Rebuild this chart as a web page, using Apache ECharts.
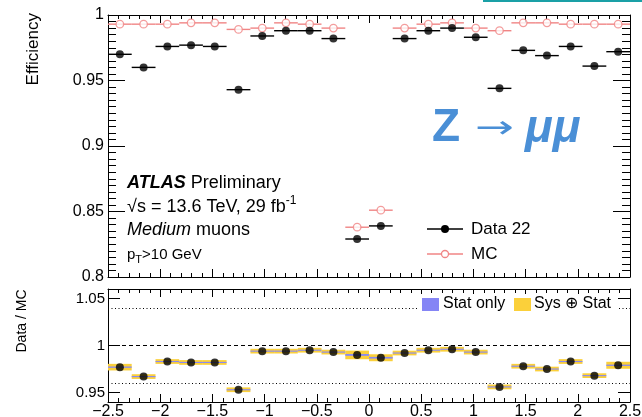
<!DOCTYPE html>
<html><head><meta charset="utf-8">
<script src="https://cdn.jsdelivr.net/npm/echarts@6/dist/echarts.min.js"></script>
<style>html,body{margin:0;padding:0;background:#fff}#c{width:642px;height:417px}</style>
</head><body><div id="c"></div>
<script>
// ---- data ----
const binEdges = [-2.5,-2.273,-2.045,-1.818,-1.591,-1.364,-1.136,-0.909,-0.682,-0.455,-0.227,0,0.227,0.455,0.682,0.909,1.136,1.364,1.591,1.818,2.045,2.273,2.5];
const dataEff = [0.970,0.960,0.976,0.977,0.976,0.943,0.984,0.988,0.988,0.982,0.829,0.839,0.982,0.988,0.990,0.983,0.944,0.973,0.969,0.976,0.961,0.972];
const mcEff   = [0.993,0.993,0.993,0.994,0.994,0.989,0.990,0.994,0.993,0.990,0.838,0.851,0.990,0.993,0.994,0.990,0.988,0.994,0.994,0.993,0.993,0.993];
const ratio   = [0.977,0.967,0.983,0.982,0.982,0.953,0.994,0.994,0.995,0.993,0.990,0.987,0.992,0.995,0.996,0.993,0.956,0.978,0.975,0.983,0.968,0.979];
const ratioSysStat = [0.0035,0.0025,0.0025,0.0025,0.0025,0.0025,0.0025,0.0025,0.0025,0.0025,0.0046,0.0037,0.0025,0.0025,0.0025,0.0025,0.0025,0.0025,0.0025,0.0025,0.0025,0.0037];
const ratioStat    = [0.0007,0.0006,0.0006,0.0006,0.0006,0.0006,0.0006,0.0006,0.0006,0.0006,0.0010,0.0009,0.0006,0.0006,0.0006,0.0006,0.0006,0.0006,0.0006,0.0006,0.0006,0.0007];
const ratioRefLines = [1.04, 0.96];
const ratioUnity = [1];
const xTicks = [-2.5,-2,-1.5,-1,-0.5,0,0.5,1,1.5,2,2.5];
const effTicks = [0.8,0.85,0.9,0.95,1];
const ratioTicks = [0.95,1,1.05];

// ---- helpers ----
const F = '"Liberation Sans", Arial, Helvetica, sans-serif';
const binItems = (vals, errs) => vals.map((v,i)=> errs ? [binEdges[i], binEdges[i+1], v, errs[i]] : [binEdges[i], binEdges[i+1], v]);
const centerItems = vals => vals.map((v,i)=>[(binEdges[i]+binEdges[i+1])/2, v]);
const hLine = (color, width) => (params, api) => {
  const a = api.coord([api.value(0), api.value(2)]);
  const b = api.coord([api.value(1), api.value(2)]);
  return {type:'line', shape:{x1:a[0], y1:a[1], x2:b[0], y2:b[1]}, style:{stroke:color, lineWidth:width}};
};
const band = color => (params, api) => {
  const v = api.value(2), e = api.value(3);
  const a = api.coord([api.value(0), v+e]);
  const b = api.coord([api.value(1), v-e]);
  return {type:'rect', shape:{x:a[0], y:a[1], width:b[0]-a[0], height:Math.max(b[1]-a[1],1)}, style:{fill:color}};
};
const blk = {color:'#000', width:1};
function xAx(grid, pos, labels){
  return {gridIndex:grid, type:'value', min:-2.5, max:2.5, interval:0.5, position:pos,
    axisLine:{show:true, onZero:false, lineStyle:blk},
    axisTick:{show:true, inside:true, length:8, lineStyle:blk},
    minorTick:{show:true, splitNumber:5, length:4, lineStyle:blk},
    splitLine:{show:false},
    axisLabel:{show:labels, margin:2, fontFamily:F, fontSize:16, color:'#000',
      customValues: xTicks, formatter: v => String(v).replace('-', '\u2212')}};
}
function yAx(grid, pos, lo, hi, labels, ticks, tickLen, minor, fs){
  const ax = {gridIndex:grid, type:'value', min:lo, max:hi, position:pos,
    axisLine:{show:true, onZero:false, lineStyle:blk},
    axisTick:{show:true, inside:true, length:tickLen, lineStyle:blk, customValues:ticks},
    minorTick:{show:minor, splitNumber:10, length:8, lineStyle:blk},
    splitLine:{show:false},
    axisLabel:{show:labels, margin:grid===0?4:3, fontFamily:F, fontSize:fs, color:'#000', customValues:ticks}};
  if (minor) { ax.interval = 0.05; delete ax.axisTick.customValues; }
  return ax;
}
const Z = '#4a8fd6';
const PINK = '#f08585';

const option = {
  animation:false,
  backgroundColor:'#fff',
  grid:[{left:108, right:12, top:15, height:262, outerBoundsMode:'none', containLabel:false},
        {left:108, right:12, top:289, height:113, outerBoundsMode:'none', containLabel:false}],
  xAxis:[xAx(0,'bottom',false), xAx(0,'top',false), xAx(1,'bottom',true), xAx(1,'top',false)],
  yAxis:[
    yAx(0,'left',0.8,1,true,effTicks,17,true,16),
    yAx(0,'right',0.8,1,false,effTicks,17,true,16),
    yAx(1,'left',0.94,1.06,true,ratioTicks,12,false,15),
    yAx(1,'right',0.94,1.06,false,ratioTicks,12,false,15)
  ],
  series:[
    {type:'custom', xAxisIndex:0, yAxisIndex:0, renderItem:hLine(PINK,1.4), data:binItems(mcEff), encode:{x:[0,1], y:2}, z:2},
    {type:'scatter', xAxisIndex:0, yAxisIndex:0, data:centerItems(mcEff), symbol:'circle', symbolSize:7.5,
      itemStyle:{color:'#fff', borderColor:PINK, borderWidth:1.3}, z:3},
    {type:'custom', xAxisIndex:0, yAxisIndex:0, renderItem:hLine('#000',1.4), data:binItems(dataEff), encode:{x:[0,1], y:2}, z:4},
    {type:'scatter', xAxisIndex:0, yAxisIndex:0, data:centerItems(dataEff), symbol:'circle', symbolSize:8,
      itemStyle:{color:'#000'}, z:5},
    // ratio panel
    {type:'scatter', xAxisIndex:2, yAxisIndex:2, data:[], silent:true, z:1,
      markLine:{silent:true, symbol:'none', label:{show:false}, animation:false,
        data: ratioRefLines.map(v=>({yAxis:v, lineStyle:{color:'#000', width:1, type:[1,2.5]}}))
          .concat(ratioUnity.map(v=>({yAxis:v, lineStyle:{color:'#000', width:1, type:[4,3]}})))}},
    {type:'custom', xAxisIndex:2, yAxisIndex:2, renderItem:band('#fbd03a'), data:binItems(ratio, ratioSysStat), encode:{x:[0,1], y:2}, z:2},
    {type:'custom', xAxisIndex:2, yAxisIndex:2, renderItem:band('#8a8af2'), data:binItems(ratio, ratioStat), encode:{x:[0,1], y:2}, z:3},
    {type:'scatter', xAxisIndex:2, yAxisIndex:2, data:centerItems(ratio), symbol:'circle', symbolSize:8,
      itemStyle:{color:'#000'}, z:5}
  ],
  graphic:[
    {type:'line', shape:{x1:483, y1:1, x2:642, y2:1}, style:{stroke:'#1aa0a6', lineWidth:2}},
    // axis titles
    {type:'text', x:33, y:13, rotation:Math.PI/2, style:{text:'Efficiency', font:'17px '+F, fill:'#000', align:'right', verticalAlign:'middle'}},
    {type:'text', x:22, y:321, rotation:Math.PI/2, style:{text:'Data / MC', font:'14px '+F, fill:'#000', align:'center', verticalAlign:'middle'}},
    // labels
    {type:'text', x:127, y:183, style:{text:'{b|ATLAS} Preliminary', font:'18px '+F, fill:'#000', verticalAlign:'middle',
      rich:{b:{fontFamily:F, fontSize:18, fontWeight:'bold', fontStyle:'italic'}}}},
    {type:'text', x:127, y:207, style:{text:'\u221As = 13.6 TeV, 29 fb{s|-1}', font:'18px '+F, fill:'#000', verticalAlign:'middle',
      rich:{s:{fontFamily:F, fontSize:12, padding:[0,0,12,0]}}}},
    {type:'text', x:127, y:230, style:{text:'{i|Medium} muons', font:'18px '+F, fill:'#000', verticalAlign:'middle',
      rich:{i:{fontFamily:F, fontSize:18, fontStyle:'italic'}}}},
    {type:'text', x:127, y:255, style:{text:'p{t|T}>10 GeV', font:'15px '+F, fill:'#000', verticalAlign:'middle',
      rich:{t:{fontFamily:F, fontSize:11, padding:[10,0,0,0]}}}},
    // Z -> mumu
    {type:'text', x:432, y:128, style:{text:'Z', font:'bold 46px '+F, fill:Z, verticalAlign:'middle'}},
    {type:'text', x:475, y:130, scaleX:1.45, style:{text:'\u2192', font:'32px "DejaVu Sans"', fill:Z, verticalAlign:'middle'}},
    {type:'text', x:525, y:129, style:{text:'\u03BC\u03BC', font:'italic bold 46px '+F, fill:Z, verticalAlign:'middle'}},
    // top legend
    {type:'line', shape:{x1:427, y1:229, x2:463, y2:229}, style:{stroke:'#000', lineWidth:1.4}},
    {type:'circle', shape:{cx:445, cy:229, r:4}, style:{fill:'#000'}},
    {type:'text', x:471, y:229, style:{text:'Data 22', font:'17px '+F, fill:'#000', verticalAlign:'middle'}},
    {type:'line', shape:{x1:427, y1:254, x2:463, y2:254}, style:{stroke:PINK, lineWidth:1.4}},
    {type:'circle', shape:{cx:445, cy:254, r:3.5}, style:{fill:'#fff', stroke:PINK, lineWidth:1.3}},
    {type:'text', x:471, y:254, style:{text:'MC', font:'17px '+F, fill:'#000', verticalAlign:'middle'}},
    // ratio legend
    {type:'rect', z:100, shape:{x:419, y:294, width:198, height:20}, style:{fill:'#fff'}},
    {type:'rect', z:101, shape:{x:422, y:298, width:17, height:13}, style:{fill:'#8585f5'}},
    {type:'text', z:101, x:443, y:304, style:{text:'Stat only', font:'16px '+F, fill:'#000', verticalAlign:'middle'}},
    {type:'rect', z:101, shape:{x:514, y:298, width:17, height:13}, style:{fill:'#fbd03a'}},
    {type:'text', z:101, x:534, y:304, style:{text:'Sys \u2295 Stat', font:'16px '+F, fill:'#000', verticalAlign:'middle'}}
  ]
};
const chart = echarts.init(document.getElementById('c'), null, {renderer:'canvas'});
chart.setOption(option);
</script></body></html>
